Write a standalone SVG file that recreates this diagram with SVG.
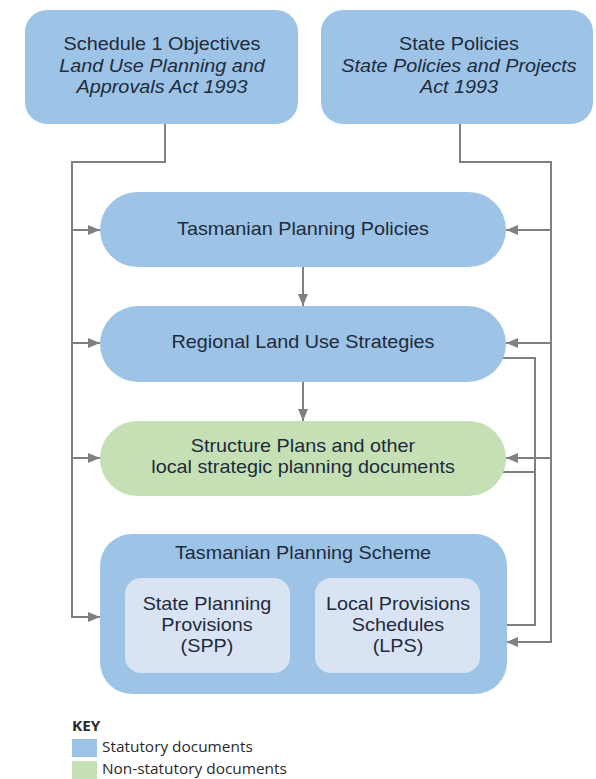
<svg xmlns="http://www.w3.org/2000/svg" width="596" height="779" viewBox="0 0 596 779">
<defs>
<style>
.blue{fill:#9dc3e6}
.green{fill:#c5e0b4}
.inner{fill:#dae3f3}
.t{font-family:"Liberation Sans",Arial,sans-serif;font-size:18px;fill:#1e2b3c;text-anchor:middle}
.i{font-style:italic}
.k{font-family:"Open Sans","Segoe UI",sans-serif;font-size:14px;fill:#2a2a2a}
.c{fill:none;stroke:#808080;stroke-width:2}
</style>
<marker id="ah" markerWidth="12" markerHeight="10" refX="12" refY="5" orient="auto" markerUnits="userSpaceOnUse">
<path d="M0,0 L12,5 L0,10 Z" fill="#808080"/>
</marker>
</defs>
<rect width="596" height="779" fill="#ffffff"/>

<g id="connectors">
<path class="c" d="M165 124 V162 H72 V617 H100" marker-end="url(#ah)"/>
<path class="c" d="M72 230 H100" marker-end="url(#ah)"/>
<path class="c" d="M72 343 H100" marker-end="url(#ah)"/>
<path class="c" d="M72 458 H100" marker-end="url(#ah)"/>
<path class="c" d="M460 124 V162 H551 V642 H506" marker-end="url(#ah)"/>
<path class="c" d="M551 230 H506" marker-end="url(#ah)"/>
<path class="c" d="M551 343 H506" marker-end="url(#ah)"/>
<path class="c" d="M551 458 H506" marker-end="url(#ah)"/>
<path class="c" d="M503 358 H535 V625 H481" marker-end="url(#ah)"/>
<path class="c" d="M503 472 H535"/>
<path class="c" d="M303 267 V306" marker-end="url(#ah)"/>
<path class="c" d="M303 382 V421" marker-end="url(#ah)"/>
</g>

<g id="schedule1">
<rect class="blue" x="25" y="10" width="273" height="114" rx="22"/>
<text class="t" transform="translate(162 50) scale(1.1 1)">Schedule 1 Objectives</text>
<text class="t i" transform="translate(162 72) scale(1.1 1)">Land Use Planning and</text>
<text class="t i" transform="translate(162 93) scale(1.1 1)">Approvals Act 1993</text>
</g>

<g id="statePolicies">
<rect class="blue" x="321" y="10" width="272" height="114" rx="22"/>
<text class="t" transform="translate(459 50) scale(1.1 1)">State Policies</text>
<text class="t i" transform="translate(459 72) scale(1.1 1)">State Policies and Projects</text>
<text class="t i" transform="translate(459 93) scale(1.1 1)">Act 1993</text>
</g>

<g id="tpp">
<rect class="blue" x="100" y="192" width="406" height="75" rx="37.5"/>
<text class="t" transform="translate(303 235) scale(1.1 1)">Tasmanian Planning Policies</text>
</g>

<g id="rlus">
<rect class="blue" x="100" y="306" width="406" height="76" rx="38"/>
<text class="t" transform="translate(303 348) scale(1.1 1)">Regional Land Use Strategies</text>
</g>

<g id="structure">
<rect class="green" x="100" y="421" width="406" height="75" rx="37.5"/>
<text class="t" transform="translate(303 452) scale(1.1 1)">Structure Plans and other</text>
<text class="t" transform="translate(303 473) scale(1.1 1)">local strategic planning documents</text>
</g>

<g id="tps">
<rect class="blue" x="100" y="534" width="407" height="160" rx="32"/>
<text class="t" transform="translate(303 559) scale(1.1 1)">Tasmanian Planning Scheme</text>
</g>

<g id="spp">
<rect class="inner" x="125" y="578" width="165" height="95" rx="16"/>
<text class="t" transform="translate(207 610) scale(1.1 1)">State Planning</text>
<text class="t" transform="translate(207 631) scale(1.1 1)">Provisions</text>
<text class="t" transform="translate(207 652) scale(1.1 1)">(SPP)</text>
</g>

<g id="lps">
<rect class="inner" x="315" y="578" width="165" height="95" rx="16"/>
<text class="t" transform="translate(398 610) scale(1.1 1)">Local Provisions</text>
<text class="t" transform="translate(398 631) scale(1.1 1)">Schedules</text>
<text class="t" transform="translate(398 652) scale(1.1 1)">(LPS)</text>
</g>

<g id="key">
<text class="k" font-weight="bold" transform="translate(72 731) scale(1.1 1)">KEY</text>
<rect class="blue" x="72" y="739" width="25" height="18"/>
<text class="k" transform="translate(102 752) scale(1.1 1)">Statutory documents</text>
<rect class="green" x="72" y="761" width="25" height="18"/>
<text class="k" transform="translate(102 774) scale(1.1 1)">Non-statutory documents</text>
</g>
</svg>
